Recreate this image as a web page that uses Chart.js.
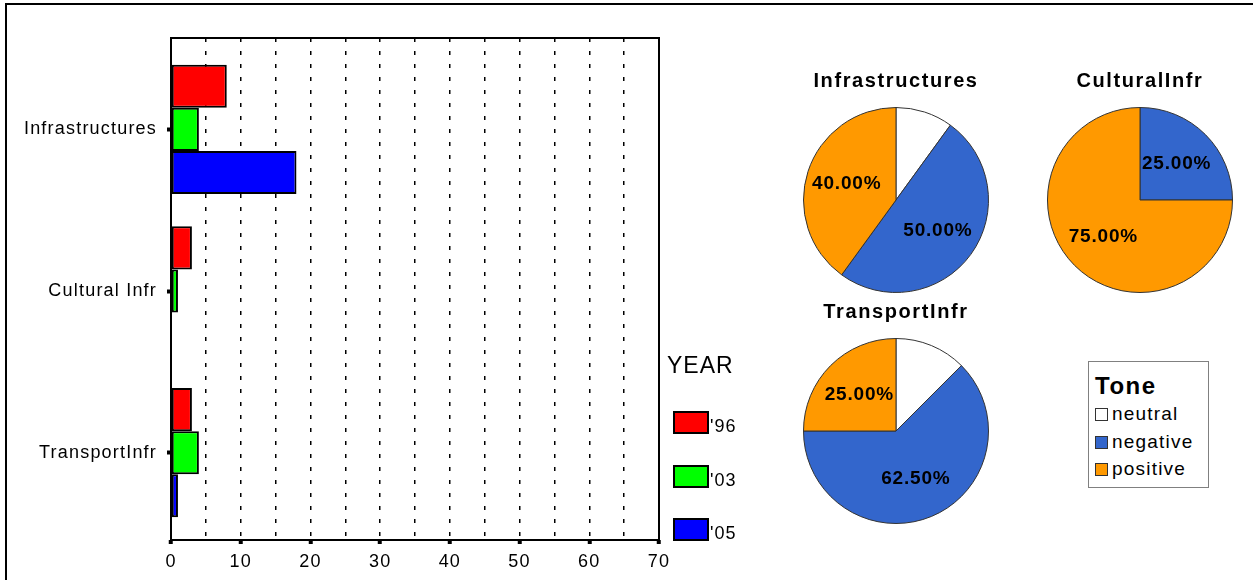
<!DOCTYPE html>
<html>
<head>
<meta charset="utf-8">
<script src="https://cdn.jsdelivr.net/npm/chart.js@4.4.0/dist/chart.umd.min.js"></script>
<style>
  body { margin: 0; background: #fff; width: 1253px; height: 580px; overflow: hidden; position: relative;
         font-family: Arial, "Liberation Sans", sans-serif; color: #000; }
  #frame { position: absolute; left: 5px; top: 3px; width: 1300px; height: 700px;
           border-left: 2px solid #000; border-top: 2px solid #000; }
  canvas { position: absolute; }
  .abs { position: absolute; white-space: nowrap; }
  .ybox { position: absolute; box-sizing: border-box; width: 36px; height: 23px; border: 2px solid #000; }
  #tone { position: absolute; left: 1088px; top: 361px; width: 121px; height: 127px;
          box-sizing: border-box; border: 1px solid #808080; background: #fff; }
  .tsq { position: absolute; box-sizing: border-box; width: 13px; height: 13px; border: 1px solid #333; }
</style>
</head>
<body>
<div id="frame"></div>
<canvas id="barChart" width="1253" height="580" style="left:0;top:0"></canvas>
<canvas id="pieInfra" width="220" height="231"></canvas>
<canvas id="pieCultural" width="220" height="231"></canvas>
<canvas id="pieTransport" width="220" height="231"></canvas>
<div id="yearLegend"></div>
<div id="tone"></div>

<script>
// data
const categories = ['Infrastructures', 'Cultural Infr', 'TransportInfr'];
const years = ["'96", "'03", "'05"];
const y96 = [8, 3, 3];
const y03 = [4, 1, 4];
const y05 = [18, 0, 1];

const tones = ['neutral', 'negative', 'positive'];
const pieTitles = ['Infrastructures', 'CulturalInfr', 'TransportInfr'];
const infraTone = [10, 50, 40];
const culturalTone = [0, 25, 75];
const transportTone = [12.5, 62.5, 25];

const yearColors = ['#FF0000', '#00FF00', '#0000FF'];
const toneColors = ['#FFFFFF', '#3366CC', '#FF9900'];

Chart.defaults.font.family = 'Arial, "Liberation Sans", sans-serif';
Chart.defaults.color = '#000';

const spacing = px => ({ id: 'spacing', beforeDraw(chart) { chart.ctx.letterSpacing = px; } });

const boxPlugin = {
    id: 'box',
    afterDraw(chart) {
        const { ctx, chartArea: a } = chart;
        ctx.save();
        ctx.strokeStyle = '#000';
        ctx.lineWidth = 2;
        ctx.strokeRect(a.left, a.top, a.right - a.left, a.bottom - a.top);
        ctx.restore();
    }
};

const toPoints = arr => arr.map((v, i) => ({ x: v, y: i }));
const series = [y96, y03, y05];

new Chart(document.getElementById('barChart'), {
    type: 'bar',
    data: {
        datasets: series.map((s, i) => ({
            label: years[i],
            data: toPoints(s),
            backgroundColor: yearColors[i],
            borderColor: '#000',
            borderWidth: 2,
            borderSkipped: false,
            categoryPercentage: 0.8,
            barPercentage: 1
        }))
    },
    options: {
        indexAxis: 'y',
        responsive: false,
        animation: false,
        layout: { padding: { top: 38, right: 594, left: 0, bottom: 0 } },
        plugins: { legend: { display: false }, tooltip: { enabled: false } },
        scales: {
            x: {
                type: 'linear', min: 0, max: 70,
                afterFit: s => { s.height = 40; },
                ticks: {
                    stepSize: 5, autoSkip: false, maxRotation: 0, padding: 7,
                    font: { size: 18 }, color: '#000',
                    callback: v => (v % 10 === 0 ? v : '')
                },
                border: { display: false, dash: [4, 9] },
                grid: {
                    color: c => (c.tick && c.tick.value > 0 && c.tick.value < 70) ? '#000' : 'rgba(0,0,0,0)',
                    lineWidth: 1.5,
                    tickColor: c => (c.tick && c.tick.value % 10 === 0) ? '#000' : 'rgba(0,0,0,0)',
                    tickLength: 4, tickWidth: 4, tickBorderDash: []
                }
            },
            y: {
                type: 'linear', reverse: true, min: -0.565, max: 2.54, offset: false,
                afterFit: s => { s.width = 171; },
                afterBuildTicks: s => { s.ticks = categories.map((c, i) => ({ value: i })); },
                ticks: { font: { size: 18 }, color: '#000', padding: 10, callback: v => categories[v] },
                border: { display: false },
                grid: { offset: false, drawOnChartArea: false, tickLength: 4, tickWidth: 4, tickColor: '#000' }
            }
        }
    },
    plugins: [boxPlugin, spacing('1.2px')]
});

// percentage labels on pies (neutral slice left unlabeled)
const pctLabels = {
    id: 'pctLabels',
    afterDatasetsDraw(chart) {
        const ctx = chart.ctx;
        const meta = chart.getDatasetMeta(0);
        const vals = chart.data.datasets[0].data;
        ctx.save();
        ctx.font = 'bold 19px Arial, "Liberation Sans", sans-serif';
        ctx.letterSpacing = '0.8px';
        ctx.fillStyle = '#000';
        ctx.textAlign = 'center';
        ctx.textBaseline = 'middle';
        meta.data.forEach((arc, i) => {
            if (i === 0 || !vals[i]) return;
            const p = arc.getProps(['x', 'y', 'startAngle', 'endAngle', 'outerRadius']);
            const mid = (p.startAngle + p.endAngle) / 2;
            const r = p.outerRadius * 0.56;
            ctx.fillText(vals[i].toFixed(2) + '%', p.x + Math.cos(mid) * r, p.y + Math.sin(mid) * r);
        });
        ctx.restore();
    }
};

function drawPie(id, title, values, cx, cy) {
    const el = document.getElementById(id);
    el.style.left = (cx - 110) + 'px';
    el.style.top = (cy - 138) + 'px';
    new Chart(el, {
        type: 'pie',
        data: {
            labels: tones,
            datasets: [{ data: values, backgroundColor: toneColors, borderColor: '#333', borderWidth: 1 }]
        },
        options: {
            responsive: false,
            animation: false,
            plugins: {
                legend: { display: false },
                tooltip: { enabled: false },
                title: {
                    display: true, text: title, color: '#000',
                    font: { size: 20, weight: 'bold' },
                    padding: { top: 7, bottom: 14 }
                }
            }
        },
        plugins: [pctLabels, spacing('1.6px')]
    });
}

drawPie('pieInfra', pieTitles[0], infraTone, 896, 200);
drawPie('pieCultural', pieTitles[1], culturalTone, 1140, 200);
drawPie('pieTransport', pieTitles[2], transportTone, 896, 431);

// YEAR legend
const yl = document.getElementById('yearLegend');
let html = '<div class="abs" style="left:667px;top:351px;font-size:23px;line-height:28px;letter-spacing:1px">YEAR</div>';
years.forEach((y, i) => {
    const top = 411 + i * 53.5;
    html += '<div class="ybox" style="left:673px;top:' + top + 'px;background:' + yearColors[i] + '"></div>';
    html += '<div class="abs" style="left:710px;top:' + (top + 4) + 'px;font-size:18px;line-height:22px;letter-spacing:1px">' + y + '</div>';
});
yl.innerHTML = html;

// Tone legend
const tl = document.getElementById('tone');
let th = '<div class="abs" style="left:6px;top:10px;font-size:24px;font-weight:bold;line-height:28px;letter-spacing:1.5px">Tone</div>';
tones.forEach((t, i) => {
    const cy = 52 + i * 27.5;
    th += '<div class="tsq" style="left:6px;top:' + (cy - 6) + 'px;background:' + toneColors[i] + '"></div>';
    th += '<div class="abs" style="left:23px;top:' + (cy - 12) + 'px;font-size:19px;line-height:24px;letter-spacing:1.2px">' + t + '</div>';
});
tl.innerHTML = th;
</script>
</body>
</html>
